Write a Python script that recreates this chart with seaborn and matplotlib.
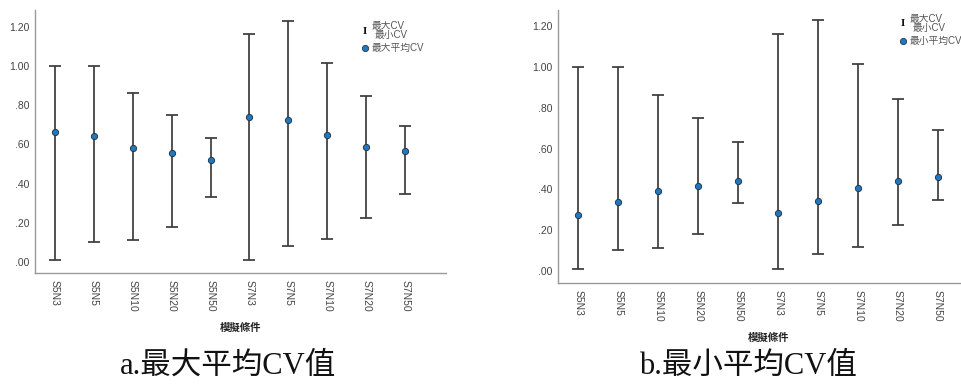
import numpy as np
import pandas as pd
import matplotlib
matplotlib.use("Agg")
import matplotlib.pyplot as plt
import seaborn as sns

# datos
condiciones = ["S5N3", "S5N5", "S5N10", "S5N20", "S5N50",
               "S7N3", "S7N5", "S7N10", "S7N20", "S7N50"]
cv_max = [1.00, 1.00, 0.86, 0.75, 0.633, 1.163, 1.23, 1.016, 0.845, 0.693]
cv_min = [0.01, 0.103, 0.112, 0.18, 0.333, 0.01, 0.082, 0.117, 0.224, 0.348]
max_mean_cv = [0.665, 0.643, 0.583, 0.554, 0.522, 0.74, 0.723, 0.65, 0.587, 0.565]
min_mean_cv = [0.275, 0.337, 0.392, 0.415, 0.44, 0.283, 0.343, 0.407, 0.441, 0.462]
ytick_vals = [0.0, 0.2, 0.4, 0.6, 0.8, 1.0, 1.2]
ytick_labels = [".00", ".20", ".40", ".60", ".80", "1.00", "1.20"]

sns.set_style("white")
sans = ["Liberation Sans", "Noto Sans CJK TC"]
serif = ["Liberation Serif", "Noto Sans CJK TC"]
plt.rcParams["font.family"] = sans

W, H = 961, 384
fig = plt.figure(figsize=(W / 100, H / 100), dpi=100)
ax1 = fig.add_axes([35 / W, 1 - 273 / H, 411 / W, 263 / H])
ax2 = fig.add_axes([558 / W, 1 - 283 / H, 422 / W, 273 / H])

paneles = [
    (ax1, max_mean_cv, (-0.056, 1.286)),
    (ax2, min_mean_cv, (-0.059, 1.279)),
]

for ax, medias, ylim in paneles:
    df = pd.DataFrame({"cond": condiciones, "media": medias,
                       "lo": cv_min, "hi": cv_max})
    yerr = np.array([df["media"] - df["lo"], df["hi"] - df["media"]])
    ax.errorbar(df["cond"], df["media"], yerr=yerr, fmt="none",
                ecolor="#3c3c3c", elinewidth=1.25, capsize=4.5, capthick=1.25,
                zorder=2)
    sns.scatterplot(data=df, x="cond", y="media", ax=ax, s=20,
                    color="#1f78c1", edgecolor="#24384a", linewidth=0.7,
                    zorder=3, legend=False)
    ax.set_xlim(-0.51, 10.05)
    ax.set_ylim(*ylim)
    ax.set_yticks(ytick_vals)
    ax.set_yticklabels(ytick_labels)
    ax.set_xlabel("")
    ax.set_ylabel("")
    ax.tick_params(axis="both", length=0, labelsize=7.5, colors="#444444")
    ax.tick_params(axis="y", pad=4)
    ax.tick_params(axis="x", pad=5)
    for lab in ax.get_xticklabels():
        lab.set_rotation(270)
    sns.despine(ax=ax)
    for s in ["left", "bottom"]:
        ax.spines[s].set_color("#999999")
        ax.spines[s].set_linewidth(1.0)

# etiquetas del eje x y titulos
fig.text(241 / W, 1 - 328 / H, "模擬條件", ha="center", va="center",
         fontsize=7.5, fontweight="bold", color="#222222")
fig.text(769 / W, 1 - 338 / H, "模擬條件", ha="center", va="center",
         fontsize=7.5, fontweight="bold", color="#222222")
fig.text(228 / W, 1 - 366 / H, "a.最大平均CV值", ha="center", va="center",
         fontsize=22, family=serif, color="#111111")
fig.text(748 / W, 1 - 366 / H, "b.最小平均CV值", ha="center", va="center",
         fontsize=22, family=serif, color="#111111")

# leyendas
for ax, xi, yi, nombre in [(ax1, 365, 31, "最大平均CV"), (ax2, 903, 24, "最小平均CV")]:
    fig.text(xi / W, 1 - yi / H, "I", ha="center", va="center", fontsize=8,
             family=["Liberation Serif"], fontweight="bold", color="#111111")
    fig.text((xi + 7) / W, 1 - (yi - 5) / H, "最大CV", ha="left", va="center",
             fontsize=7, color="#555555")
    fig.text((xi + 10) / W, 1 - (yi + 4) / H, "最小CV", ha="left", va="center",
             fontsize=7, color="#555555")
    ax.plot([xi / W], [1 - (yi + 17) / H], marker="o", markersize=4.5,
            color="#1f78c1", markeredgecolor="#24384a", markeredgewidth=0.6,
            transform=fig.transFigure, clip_on=False)
    fig.text((xi + 7) / W, 1 - (yi + 17) / H, nombre, ha="left", va="center",
             fontsize=7, color="#555555")

fig.savefig("out.png", dpi=100)
